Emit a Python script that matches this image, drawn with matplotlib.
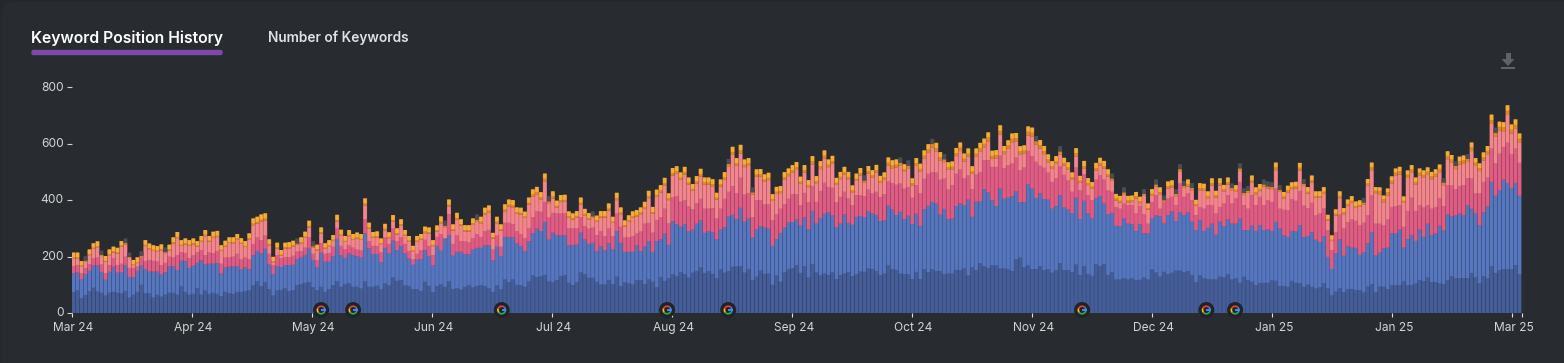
import matplotlib
matplotlib.use('Agg')
import matplotlib.pyplot as plt
import numpy as np
from matplotlib.patches import Circle, FancyBboxPatch, Polygon, Rectangle, Wedge
from matplotlib.transforms import ScaledTranslation

plt.rcParams['font.family'] = ['Inter', 'DejaVu Sans']

# keywords at or above each position bucket, one row = 30 days
top3 = [
    74,81,53,64,78,90,77,72,62,72,75,72,70,78,55,65,75,100,70,70,55,65,58,65,72,72,65,95,75,65,
    68,88,65,80,68,72,68,60,75,70,68,75,75,78,80,98,112,95,110,85,62,80,82,88,78,81,99,103,107,110,
    91,81,93,75,85,99,113,93,103,105,93,93,87,112,93,93,97,84,105,98,126,114,117,98,96,85,85,78,111,96,
    74,96,101,93,112,85,88,83,93,99,91,96,99,96,88,75,98,84,119,110,119,100,98,93,112,133,127,130,135,112,
    110,117,131,135,107,99,110,144,137,125,125,111,101,101,117,103,129,96,109,105,101,116,117,103,119,111,91,127,114,123,
    137,131,144,138,126,143,148,162,142,148,139,123,155,143,149,164,165,166,143,156,117,129,150,139,140,100,133,111,144,156,
    159,170,142,166,126,173,144,133,140,135,144,120,135,140,145,131,138,147,146,158,156,149,135,140,169,156,153,140,138,137,
    120,146,120,156,145,155,149,149,137,140,140,153,152,159,133,162,152,176,166,160,169,169,158,158,155,149,190,197,162,169,
    156,156,166,152,155,143,152,176,152,152,145,172,135,166,138,132,172,166,173,135,144,119,119,123,119,123,117,118,126,119,
    155,144,129,146,137,143,150,150,144,149,135,109,133,124,120,119,119,129,126,137,119,123,107,129,117,111,99,107,107,107,
    116,114,96,96,93,114,107,105,93,101,93,87,91,105,87,63,76,88,74,84,85,81,81,73,94,103,73,94,93,85,
    98,98,99,112,99,100,105,117,113,126,110,110,105,103,117,131,123,123,124,123,142,126,105,131,123,166,142,152,155,155,155,170,137,
]
top10 = [
    141,144,119,138,150,169,169,146,118,146,164,143,145,169,128,127,150,170,155,147,147,147,137,145,165,166,153,186,184,160,
    168,178,187,172,175,175,177,140,161,165,165,167,155,162,155,205,220,212,228,172,138,167,163,170,170,171,191,197,206,229,
    188,162,214,182,182,201,263,205,196,211,205,202,197,282,229,209,209,180,231,211,257,223,238,211,193,171,189,190,223,202,
    169,238,221,264,276,203,217,217,208,208,225,231,231,240,240,186,235,202,270,269,268,247,237,219,254,282,299,290,323,260,
    285,276,275,275,241,241,243,285,261,245,249,219,237,222,247,225,290,249,217,217,217,240,219,236,255,217,255,261,282,242,
    326,315,306,315,289,296,317,329,284,290,286,261,296,304,343,348,332,373,324,335,268,297,308,303,299,238,262,284,303,321,
    323,332,310,339,296,362,317,336,352,357,346,304,317,350,320,313,341,344,339,360,353,346,326,329,381,367,347,359,332,345,
    315,352,309,368,380,394,388,349,369,333,335,379,389,381,402,341,395,395,439,427,400,379,441,405,409,414,431,393,393,457,
    441,407,424,404,402,370,379,418,374,367,353,409,333,398,353,335,406,415,388,350,355,309,308,335,317,314,290,314,282,282,
    335,346,343,317,347,360,326,356,347,356,324,294,329,291,302,317,278,324,308,332,317,317,335,294,294,310,291,312,294,297,
    291,323,300,276,270,291,289,311,269,273,287,260,252,273,199,156,211,261,203,237,232,231,206,216,247,287,204,214,230,232,
    282,282,296,232,262,277,256,296,270,317,277,282,310,293,350,342,346,353,346,382,370,353,311,357,378,465,416,435,473,461,442,461,416,
]
top20 = [
    167,170,141,160,173,194,197,172,141,170,195,170,175,200,160,160,165,197,185,188,185,183,170,178,200,198,205,216,213,195,
    205,215,223,205,215,212,220,175,197,197,200,210,190,197,190,245,268,258,275,210,170,205,195,198,198,203,218,220,232,268,
    210,188,248,210,212,235,302,238,226,240,232,225,222,332,255,238,238,215,268,245,300,255,268,245,220,190,210,222,260,238,
    205,270,280,265,350,245,275,255,255,250,265,280,270,290,295,225,275,235,320,320,315,290,280,265,300,340,360,359,394,339,
    355,353,353,353,300,300,300,339,308,299,303,276,290,273,300,273,353,306,268,268,273,282,289,317,320,285,330,340,370,318,
    410,415,395,400,378,368,390,405,370,370,372,335,370,405,430,450,425,480,420,425,340,400,400,385,385,330,350,370,385,405,
    421,421,382,426,393,450,394,433,462,447,444,393,412,430,406,382,418,418,414,438,424,430,412,421,467,461,455,459,441,447,
    409,453,424,476,494,499,498,473,477,438,453,494,509,477,488,439,491,500,542,542,518,518,558,514,524,530,551,506,516,575,
    556,536,522,515,498,465,478,520,490,470,430,516,435,492,418,400,473,488,473,435,430,376,370,388,383,383,353,380,350,317,
    394,418,370,394,406,412,383,459,412,424,400,347,376,370,383,383,353,376,388,418,388,406,465,383,370,418,383,412,383,400,
    394,441,370,366,364,404,398,433,381,372,391,346,353,371,294,223,286,349,300,322,332,327,311,320,347,417,317,317,311,332,
    376,379,382,306,362,409,362,382,374,382,370,376,408,379,453,452,439,450,453,478,477,424,424,465,480,583,530,565,589,604,563,583,533,
]
totals = [
    214,214,184,201,225,247,254,221,202,225,235,231,255,264,214,188,197,219,258,246,240,237,243,232,242,268,287,258,264,258,
    264,255,273,294,273,288,291,240,256,268,268,280,265,255,282,335,341,349,353,261,199,249,223,249,251,256,264,268,288,327,
    254,242,303,247,258,276,348,295,273,294,280,285,280,406,320,287,289,264,316,286,347,300,332,294,273,238,273,280,306,303,
    258,310,342,327,402,314,355,332,311,311,335,349,341,373,381,284,341,314,385,402,400,374,373,359,409,438,447,428,494,414,
    431,398,418,419,360,353,361,409,369,354,360,345,361,361,388,341,426,374,328,346,360,365,374,394,433,376,437,453,479,424,
    514,520,498,518,480,457,485,511,480,480,474,426,473,499,546,589,549,596,544,549,445,509,510,491,497,421,447,450,499,512,
    524,535,483,524,471,556,485,538,576,544,557,479,500,518,500,452,494,514,488,521,506,525,486,498,551,541,544,551,527,541,
    477,549,529,576,598,617,603,570,563,534,537,585,604,565,583,520,583,603,618,640,575,577,665,592,612,636,638,591,594,661,
    657,627,613,592,562,538,556,591,550,534,498,584,486,539,478,464,532,550,539,509,494,422,415,445,415,416,429,412,439,388,
    439,473,445,416,466,470,438,527,468,473,460,401,460,458,431,477,433,477,454,480,459,453,530,442,450,487,445,457,473,466,
    464,533,453,429,451,463,465,532,475,446,487,431,431,446,348,275,367,431,372,402,414,395,399,408,475,533,446,445,416,441,
    484,512,518,413,505,524,480,512,505,516,500,509,526,478,573,560,537,554,558,563,604,549,530,569,592,703,657,678,676,736,668,686,636,
]
# height of the two orange bands on top of each bar
orange_band = [
    20,20,18,20,20,20,21,19,20,20,21,20,20,21,19,18,20,20,21,20,20,20,21,20,20,22,22,20,21,20,
    21,20,21,22,20,22,22,19,21,20,21,21,20,21,22,24,24,25,25,21,19,21,20,21,22,21,22,21,22,24,
    22,20,22,19,21,21,24,22,21,22,21,22,21,25,22,21,21,20,23,21,24,22,23,21,21,19,21,21,23,22,
    21,22,24,23,25,22,24,23,22,22,23,24,23,25,26,20,23,22,25,25,26,23,24,22,25,26,26,25,27,25,
    26,24,25,25,23,22,23,25,23,22,23,22,23,23,25,22,26,24,21,23,23,24,24,25,26,24,26,26,27,24,
    27,27,26,27,25,24,26,27,25,25,25,24,25,27,28,29,27,30,27,28,25,26,27,26,26,24,25,25,26,27,
    27,28,25,27,25,29,25,28,29,27,28,25,26,27,26,24,26,27,26,27,26,27,25,26,28,28,28,29,27,28,
    25,28,27,29,30,31,30,29,28,27,28,29,30,28,29,27,29,30,31,32,28,29,33,29,30,31,31,29,29,32,
    32,30,30,29,28,27,28,30,28,27,26,29,25,28,25,24,27,28,27,26,25,23,24,24,23,23,24,23,24,22,
    24,25,24,23,25,25,24,27,25,25,25,22,25,25,24,25,24,25,24,25,24,24,27,24,24,25,24,25,25,25,
    25,27,24,23,24,24,24,27,25,23,25,23,23,24,21,20,22,24,22,23,24,23,23,24,25,27,24,24,24,24,
    25,26,27,23,26,27,25,26,26,27,26,26,27,25,28,28,27,28,28,28,30,28,27,29,29,33,31,32,32,34,32,33,31,
]
orange_low = [
    4,4,3,5,4,5,4,5,3,4,5,4,4,5,4,3,4,4,5,4,4,4,5,4,4,5,5,4,4,4,
    5,4,5,6,4,5,5,3,4,4,5,5,4,4,5,6,6,7,7,5,3,5,4,5,5,5,5,4,5,6,
    5,4,5,4,4,5,6,5,4,5,4,5,4,7,5,5,5,4,6,5,6,5,6,5,5,4,5,5,6,5,
    5,6,6,6,7,5,6,6,5,5,6,6,6,7,8,5,6,5,7,7,8,6,6,5,7,8,8,7,9,7,
    8,6,7,7,6,5,6,7,6,5,6,5,6,6,7,5,8,6,5,6,6,7,7,7,8,6,8,8,9,7,
    9,9,8,9,8,7,8,9,8,8,8,7,8,9,10,11,9,11,9,10,8,8,9,8,8,7,8,8,9,9,
    9,10,8,9,8,11,8,10,11,9,10,8,9,9,8,7,8,9,8,9,8,9,8,9,10,10,10,11,9,10,
    8,10,9,11,12,13,12,11,10,9,10,11,12,10,11,9,11,12,13,14,10,11,14,11,12,13,13,11,11,14,
    14,12,12,11,10,9,10,12,10,9,9,11,8,10,8,8,9,10,9,9,8,7,7,7,7,7,8,7,8,6,
    8,8,8,7,8,8,8,10,8,8,8,7,8,8,7,8,8,8,8,8,8,8,10,8,8,8,8,8,8,8,
    8,10,8,7,8,8,8,10,8,7,9,7,7,8,6,5,7,8,7,8,8,7,7,8,9,10,12,12,12,12,
    10,12,12,8,12,12,10,12,11,12,11,11,12,10,12,12,11,12,12,12,13,12,11,12,12,14,13,14,14,15,14,14,13,
]
# days whose top band is grey instead of light orange
grey_days = [3,7,13,14,17,23,56,60,93,101,119,130,164,170,198,207,209,215,218,241,247,260,263,268,271,273,
             276,277,278,280,290,292,293,294,298,299,300,302,308,323,343,346,349,356]
update_days = [62.0,70.0,107.2,148.6,163.9,252.5,283.6,290.8]
x_labels = ['Mar 24','Apr 24','May 24','Jun 24','Jul 24','Aug 24','Sep 24','Oct 24','Nov 24','Dec 24','Jan 25','Jan 25','Mar 25']
y_ticks = [0,200,400,600,800]

BG = '#282b30'

top3 = np.array(top3)
top10 = np.array(top10)
top20 = np.array(top20)
totals = np.array(totals)
orange_band = np.array(orange_band)
orange_low = np.array(orange_low)
top50 = totals-orange_band
top_low = top50+orange_low

fig = plt.figure(figsize=(15.64,3.63),dpi=100,facecolor='#24272b')

# pixel overlay for panel, tabs and icons
bg = fig.add_axes([0,0,1,1],zorder=0)
bg.set_xlim(0,1564)
bg.set_ylim(363,0)
bg.axis('off')
bg.add_patch(FancyBboxPatch((2,2),1600,400,boxstyle='round,pad=0,rounding_size=10',fc=BG,ec='none'))

ax = fig.add_axes([71.5/1564,(363-313)/363,1450/1564,225.7/363],zorder=1)
ax.set_facecolor('none')
days = np.arange(len(totals))
is_grey = np.isin(days,grey_days)


def stacked(height,bottom,color,gap_color):
    # full width darker bar behind, so the gaps read as a darker line
    under = ax.bar(days,height,bottom=bottom,width=1.0,color=gap_color,linewidth=0)
    over = ax.bar(days,height,bottom=bottom,width=0.8,color=color,linewidth=0)
    for p in list(under)+list(over):
        p.set_snap(False)


stacked(top3,0,'#455e99','#3a4e7f')
stacked(top10-top3,top3,'#5676bf','#46619c')
stacked(top20-top10,top10,'#e05c85','#bc4e70')
stacked(top50-top20,top20,'#f4858c','#cf7078')
stacked(orange_low,top50,'#dd852f','#b87029')
stacked(totals-top_low,top_low,
        ['#4c4f52' if g else '#f7ab38' for g in is_grey],
        ['#434649' if g else '#d0902f' for g in is_grey])

ax.set_xlim(-0.5,362.5)
ax.set_ylim(0,800)
for s in ax.spines.values():
    s.set_visible(False)
ax.set_yticks(y_ticks)
ax.set_xticks([-0.5+30.05*k for k in range(13)])
ax.set_xticklabels(x_labels)
ax.set_xticks([362.5],minor=True)
ax.tick_params(axis='y',length=3.6,width=0.8,pad=2,color='#d0d0d0',labelcolor='#d4d4d4',labelsize=8.6)
ax.tick_params(axis='x',which='both',length=3,width=0.8,pad=3.5,color='#e0e0e0',labelcolor='#d4d4d4',labelsize=8.6)
for lab in ax.get_xticklabels():
    lab.set_transform(lab.get_transform()+ScaledTranslation(2/100,0,fig.dpi_scale_trans))
for lab in ax.get_yticklabels():
    lab.set_transform(lab.get_transform()+ScaledTranslation(0,1.2/100,fig.dpi_scale_trans))

# overlay on top for the google badges
top = fig.add_axes([0,0,1,1],zorder=2)
top.set_xlim(0,1564)
top.set_ylim(363,0)
top.axis('off')
top.patch.set_alpha(0)
for d in update_days:
    cx = 71.5+(d+0.5)*1450/363
    cy = 310
    top.add_patch(Circle((cx,cy),8,fc='#20242a',ec='none'))
    for a,b,c in [(-45,15,'#4285f4'),(15,140,'#34a853'),(140,205,'#fbbc05'),(205,315,'#ea4335')]:
        top.add_patch(Wedge((cx,cy),4.6,a,b,width=1.7,fc=c,ec='none'))
    top.add_patch(Rectangle((cx,cy-0.9),4.5,1.8,fc='#4285f4',ec='none'))

# tabs
top.text(31,38,'Keyword Position History',color='#ffffff',fontsize=11.35,fontweight='semibold',va='center',ha='left')
top.text(268,37.5,'Number of Keywords',color='#dfe0e8',fontsize=9.85,fontweight='semibold',va='center',ha='left')
top.add_patch(FancyBboxPatch((32,50.5),190,4,boxstyle='round,pad=0,rounding_size=1.5',fc='#7d4aa8',ec='#7d4aa8',lw=1))

# download icon
top.add_patch(Rectangle((1505.5,53),5,7,fc='#5f6266',ec='none'))
top.add_patch(Polygon([(1501.5,59),(1514.5,59),(1508,66)],fc='#5f6266',ec='none'))
top.add_patch(Rectangle((1501,67),14,1.8,fc='#5f6266',ec='none'))

fig.savefig('out.png',dpi=100,facecolor=fig.get_facecolor())
